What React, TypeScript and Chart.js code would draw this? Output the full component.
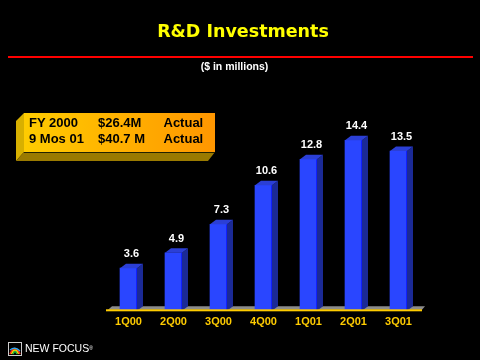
import React, { useEffect, useRef } from "react";
import { Chart, registerables } from "chart.js";

Chart.register(...registerables);

const categories = ["1Q00", "2Q00", "3Q00", "4Q00", "1Q01", "2Q01", "3Q01"];
const investments = [3.6, 4.9, 7.3, 10.6, 12.8, 14.4, 13.5];
const valueLabels = ["3.6", "4.9", "7.3", "10.6", "12.8", "14.4", "13.5"];

const boxRows = [
  ["FY 2000", "$26.4M", "Actual"],
  ["9 Mos 01", "$40.7 M", "Actual"],
];

const DEPTH_X = 6;
const DEPTH_Y = 4.5;

const bar3dPlugin = {
  id: "bar3d",
  beforeDatasetsDraw(chart: any) {
    const { ctx, chartArea } = chart;
    const b = chartArea.bottom;
    ctx.save();
    ctx.fillStyle = "#8c8c8c";
    ctx.beginPath();
    ctx.moveTo(chartArea.left + 2, b - 1);
    ctx.lineTo(chartArea.left + 6, b - 4.5);
    ctx.lineTo(chartArea.right + 4, b - 4.5);
    ctx.lineTo(chartArea.right + 1, b - 1);
    ctx.closePath();
    ctx.fill();
    ctx.restore();
  },
  afterDatasetsDraw(chart: any) {
    const { ctx, chartArea } = chart;
    const meta = chart.getDatasetMeta(0);
    ctx.save();
    meta.data.forEach((bar: any, i: number) => {
      const half = bar.width / 2;
      const x1 = bar.x - half;
      const x2 = bar.x + half;
      const top = bar.y;
      const base = bar.base;
      // side face
      ctx.fillStyle = "#1b2a96";
      ctx.beginPath();
      ctx.moveTo(x2, top);
      ctx.lineTo(x2 + DEPTH_X, top - DEPTH_Y);
      ctx.lineTo(x2 + DEPTH_X, base - DEPTH_Y);
      ctx.lineTo(x2, base);
      ctx.closePath();
      ctx.fill();
      // top face
      ctx.fillStyle = "#2b3fd6";
      ctx.beginPath();
      ctx.moveTo(x1, top);
      ctx.lineTo(x1 + DEPTH_X, top - DEPTH_Y);
      ctx.lineTo(x2 + DEPTH_X, top - DEPTH_Y);
      ctx.lineTo(x2, top);
      ctx.closePath();
      ctx.fill();
      // edge highlight
      ctx.fillStyle = "#1020ff";
      ctx.fillRect(x2 - 1, top, 1, base - top);
      // value labels
      ctx.fillStyle = "#ffffff";
      ctx.font = "bold 11px 'Liberation Sans', Arial, sans-serif";
      ctx.textAlign = "center";
      ctx.textBaseline = "alphabetic";
      ctx.fillText(valueLabels[i], bar.x + DEPTH_X / 2, top - 11);
    });
    // yellow axis line
    ctx.fillStyle = "#ffcc00";
    ctx.fillRect(chartArea.left, chartArea.bottom - 1.5, chartArea.right - chartArea.left + 1, 2);
    ctx.restore();
  },
};

export default function App() {
  const canvasRef = useRef<HTMLCanvasElement | null>(null);

  useEffect(() => {
    const canvas = canvasRef.current;
    if (!canvas) return;
    const ctx = canvas.getContext("2d")!;
    const chart = new Chart(canvas, {
      type: "bar",
      data: {
        labels: categories,
        datasets: [
          {
            data: investments,
            backgroundColor: (c: any) => {
              const el = c.element;
              if (!el || el.x === undefined) return "#2a46ff";
              const g = ctx.createLinearGradient(el.x - el.width / 2, 0, el.x + el.width / 2, 0);
              g.addColorStop(0, "#3a5cff");
              g.addColorStop(0.5, "#2a46ff");
              g.addColorStop(1, "#2238f0");
              return g;
            },
            borderWidth: 0,
            barThickness: 17,
          },
        ],
      },
      options: {
        responsive: false,
        animation: false,
        layout: { padding: { left: 106, right: 59, top: 74, bottom: 26 } },
        plugins: {
          legend: { display: false },
          tooltip: { enabled: false },
          title: { display: false },
        },
        scales: {
          x: {
            grid: { display: false, drawTicks: false },
            border: { display: false },
            ticks: {
              color: "#ffcc00",
              padding: 5,
              font: { family: "'Liberation Sans', Arial, sans-serif", size: 11, weight: "bold" },
            },
          },
          y: {
            display: false,
            min: 0,
            max: 20,
          },
        },
      },
      plugins: [bar3dPlugin],
    });
    return () => chart.destroy();
  }, []);

  const boxFont = "'Liberation Sans', Arial, sans-serif";
  const cols = [29, 98, 163.5];

  return (
    <div
      style={{
        position: "absolute",
        left: 0,
        top: 0,
        width: 480,
        height: 360,
        background: "#000000",
        overflow: "hidden",
      }}
    >
      <canvas
        ref={canvasRef}
        width={480}
        height={360}
        style={{ position: "absolute", left: 0, top: 0, width: 480, height: 360 }}
      />
      <div
        style={{
          position: "absolute",
          left: 0,
          top: 21,
          width: 486,
          textAlign: "center",
          fontFamily: "'DejaVu Sans', Verdana, sans-serif",
          fontWeight: "bold",
          fontSize: 17.5,
          lineHeight: "20px",
          color: "#ffff00",
        }}
      >
        R&amp;D Investments
      </div>
      <div style={{ position: "absolute", left: 8, top: 56, width: 465, height: 2, background: "#ff0000" }} />
      <div
        style={{
          position: "absolute",
          left: 0,
          top: 60,
          width: 469,
          textAlign: "center",
          fontFamily: boxFont,
          fontWeight: "bold",
          fontSize: 10.5,
          lineHeight: "12px",
          color: "#ffffff",
        }}
      >
        ($ in millions)
      </div>
      <svg
        width={480}
        height={360}
        style={{ position: "absolute", left: 0, top: 0, pointerEvents: "none" }}
      >
        <defs>
          <linearGradient id="boxg" x1="0" y1="0" x2="1" y2="0">
            <stop offset="0" stopColor="#ffcc00" />
            <stop offset="1" stopColor="#ff9600" />
          </linearGradient>
        </defs>
        <polygon points="24,113 16,121 16,161 24,152" fill="#d8b000" />
        <polygon points="24,152 16,161 208,161 215,152" fill="#9a7a00" />
        <rect x={24} y={113} width={191} height={39} fill="url(#boxg)" />
        <rect x={24} y={152} width={191} height={1} fill="#222200" />
        <g transform="translate(8,342)">
          <rect x={0.5} y={0.5} width={13} height={13} fill="#000" stroke="#cccccc" strokeWidth={1} />
          <path d="M2 12 Q7 1 12 12" fill="none" stroke="#ff2020" strokeWidth={1.5} />
          <path d="M3.5 12 Q7 4 10.5 12" fill="none" stroke="#ffd000" strokeWidth={1.5} />
          <path d="M5 12 Q7 7 9 12" fill="none" stroke="#20c040" strokeWidth={1.5} />
          <path d="M2 8 Q7 4 12 9" fill="none" stroke="#20b0ff" strokeWidth={1.2} />
        </g>
      </svg>
      {boxRows.map((row, r) => (
        <React.Fragment key={r}>
          {row.map((cell, c) => (
            <div
              key={c}
              style={{
                position: "absolute",
                left: cols[c],
                top: 116.3 + r * 16,
                fontFamily: boxFont,
                fontWeight: "bold",
                fontSize: 13,
                lineHeight: "13px",
                color: "#000000",
                whiteSpace: "pre",
              }}
            >
              {cell}
            </div>
          ))}
        </React.Fragment>
      ))}
      <div
        style={{
          position: "absolute",
          left: 25,
          top: 341,
          fontFamily: boxFont,
          fontSize: 10.5,
          lineHeight: "14px",
          color: "#ffffff",
          whiteSpace: "pre",
        }}
      >
        NEW FOCUS<span style={{ fontSize: 5, verticalAlign: "top" }}>®</span>
      </div>
    </div>
  );
}
